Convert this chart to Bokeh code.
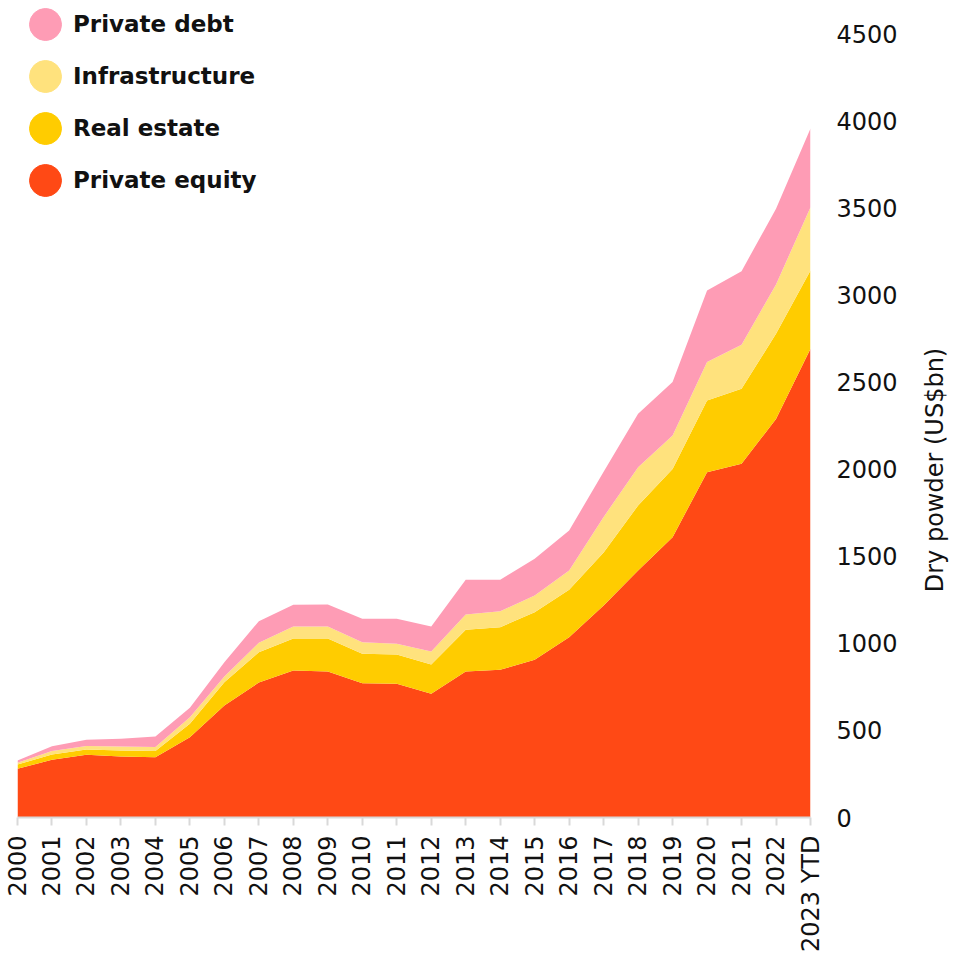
from math import pi
from bokeh.plotting import figure
from bokeh.layouts import row
from bokeh.models import ColumnDataSource, Range1d, FixedTicker, Legend, LegendItem
from bokeh.embed import file_html
from bokeh.resources import INLINE

years = ["2000", "2001", "2002", "2003", "2004", "2005", "2006", "2007", "2008", "2009",
         "2010", "2011", "2012", "2013", "2014", "2015", "2016", "2017", "2018", "2019",
         "2020", "2021", "2022", "2023 YTD"]
private_equity = [280, 331, 360, 350, 346, 461, 643, 775, 844, 838, 771, 767, 710, 838,
                  848, 905, 1035, 1217, 1418, 1609, 1982, 2030, 2288, 2690]
real_estate = [24, 31, 30, 35, 35, 77, 134, 174, 183, 189, 169, 169, 168, 239,
               244, 273, 272, 304, 373, 392, 411, 431, 488, 450]
infrastructure = [10, 19, 21, 22, 23, 38, 32, 54, 69, 70, 66, 61, 75, 88,
                  92, 96, 111, 204, 220, 192, 221, 252, 283, 363]
private_debt = [13, 28, 35, 45, 61, 54, 82, 124, 125, 126, 135, 144, 143, 199,
                180, 211, 229, 260, 306, 306, 411, 423, 435, 452]
y_ticks = [0, 500, 1000, 1500, 2000, 2500, 3000, 3500, 4000, 4500]
y_title = "Dry powder (US$bn)"

series_names = ["Private equity", "Real estate", "Infrastructure", "Private debt"]
colors = ["#FF4915", "#FFCC00", "#FFE27D", "#FE9CB5"]

x = list(range(len(years)))
source = ColumnDataSource(dict(x=x, pe=private_equity, re=real_estate,
                               infra=infrastructure, pd=private_debt))

FONT = "DejaVu Sans"
NBSP = "\u00a0"

W_MAIN, W_TITLE, H = 917, 47, 955
FRAME_BOTTOM = 817          # pixel row of the zero line
TOP_TICK_PX = 33            # pixel row of the 4500 tick
px_per_unit = (FRAME_BOTTOM - TOP_TICK_PX) / 4500
y_end = FRAME_BOTTOM / px_per_unit   # frame reaches the top edge

p = figure(width=W_MAIN, height=H, output_backend="svg", toolbar_location=None,
           x_range=Range1d(0, len(years) - 1), y_range=Range1d(0, y_end),
           y_axis_location="right",
           min_border_left=17, min_border_right=W_MAIN - 810, min_border_top=0,
           min_border_bottom=H - FRAME_BOTTOM)

p.varea_stack(stackers=["pe", "re", "infra", "pd"], x="x", color=colors, source=source)

# axes
p.xaxis.ticker = FixedTicker(ticks=x)
p.xaxis.major_label_overrides = {i: y for i, y in enumerate(years)}
p.xaxis.major_label_orientation = pi / 2
p.xaxis.major_label_text_font = FONT
p.xaxis.major_label_text_font_size = "24px"
p.xaxis.major_label_text_color = "#111111"
p.xaxis.axis_line_color = "#d9d9d9"
p.xaxis.axis_line_width = 2
p.xaxis.major_tick_line_color = "#d9d9d9"
p.xaxis.major_tick_line_width = 2
p.xaxis.major_tick_out = 8
p.xaxis.major_tick_in = 0
p.xaxis.minor_tick_line_color = None
p.xaxis.major_label_standoff = 10

p.yaxis.ticker = FixedTicker(ticks=y_ticks)
p.yaxis.major_label_text_font = FONT
p.yaxis.major_label_text_font_size = "24px"
p.yaxis.major_label_text_color = "#111111"
p.yaxis.axis_line_color = None
p.yaxis.major_tick_line_color = None
p.yaxis.minor_tick_line_color = None
p.yaxis.major_tick_out = 0
p.yaxis.major_tick_in = 0
p.yaxis.major_label_standoff = 26

p.xgrid.grid_line_color = None
p.ygrid.grid_line_color = None
p.outline_line_color = None
p.background_fill_color = "white"
p.border_fill_color = "white"

# legend with round swatches (ellipse glyph legends fill 80% of the glyph box)
nan = float("nan")
items = []
for i in [3, 2, 1, 0]:
    dot = p.ellipse(x=[nan], y=[nan], width=1, height=1, width_units="screen",
                    height_units="screen", fill_color=colors[i], line_color=colors[i])
    items.append(LegendItem(label=series_names[i], renderers=[dot]))
legend = Legend(items=items, location=(8, FRAME_BOTTOM - 200),
                glyph_width=40, glyph_height=40, label_standoff=8, spacing=12,
                padding=0, margin=0,
                label_text_font=FONT, label_text_font_style="bold",
                label_text_font_size="23px", label_text_color="#111111",
                background_fill_alpha=0, border_line_alpha=0)
p.add_layout(legend)

# narrow side panel (same frame rows as the chart) carrying the y-axis title;
# trailing no-break spaces push the visible words down towards the reference position
t = figure(width=W_TITLE, height=H, output_backend="svg", toolbar_location=None,
           x_range=Range1d(0, 1), y_range=Range1d(0, 1),
           x_axis_location=None, y_axis_location="left",
           min_border_left=0, min_border_right=0, min_border_top=0,
           min_border_bottom=H - FRAME_BOTTOM)
t.yaxis.ticker = FixedTicker(ticks=[])
t.yaxis.axis_label = y_title + NBSP * 16
t.yaxis.axis_label_text_font = FONT
t.yaxis.axis_label_text_font_size = "24px"
t.yaxis.axis_label_text_font_style = "normal"
t.yaxis.axis_label_text_color = "#111111"
t.yaxis.axis_label_standoff = 0
t.yaxis.axis_line_color = None
t.yaxis.major_tick_line_color = None
t.yaxis.minor_tick_line_color = None
t.yaxis.major_tick_out = 0
t.yaxis.major_tick_in = 0
t.yaxis.major_label_standoff = 0
t.xgrid.grid_line_color = None
t.ygrid.grid_line_color = None
t.outline_line_color = None
t.background_fill_color = "white"
t.border_fill_color = "white"

layout = row(p, t, spacing=0)
open("out.html", "w").write(file_html(layout, INLINE))
